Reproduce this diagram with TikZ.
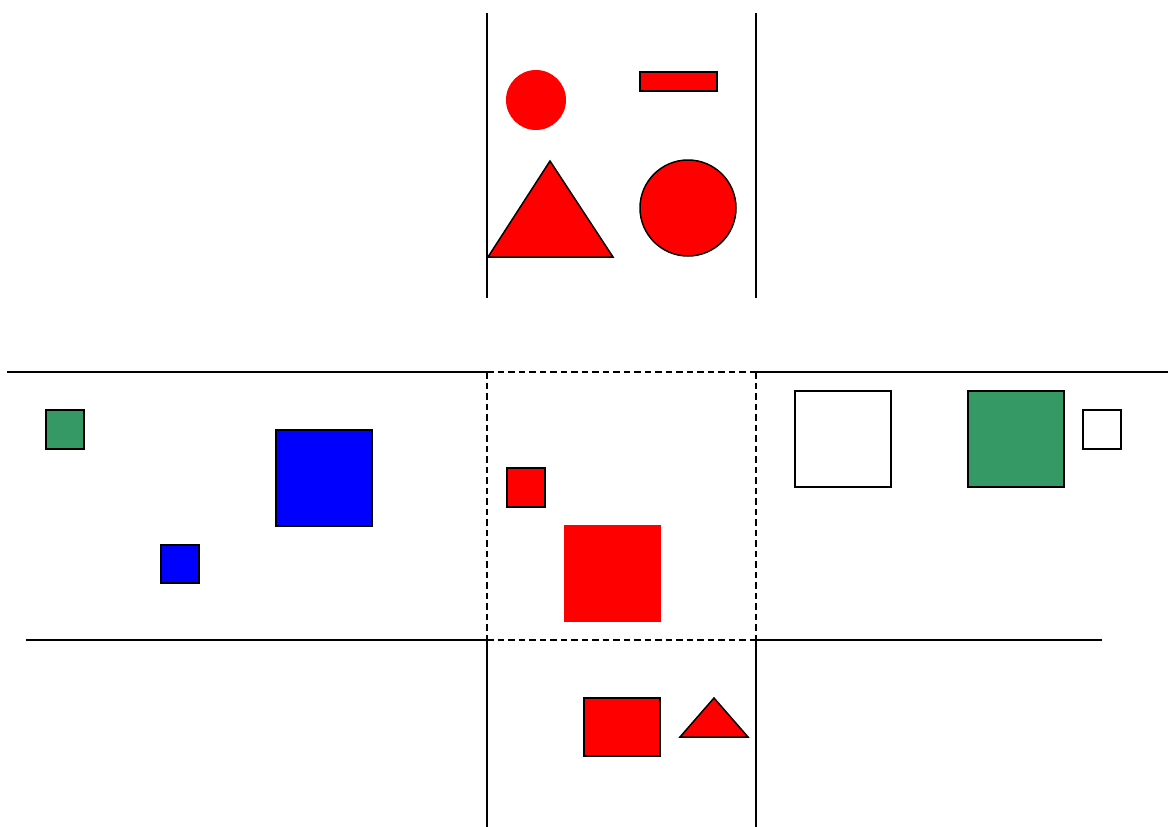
\documentclass[tikz,border=0pt]{standalone}
\definecolor{sgreen}{RGB}{53,153,102}
\definecolor{pred}{RGB}{255,0,0}
\definecolor{pblue}{RGB}{0,0,255}
\tikzset{
  ln/.style={line width=1.6pt, black},
  dln/.style={line width=1.6pt, black, dash pattern=on 6.5pt off 4pt},
  shp/.style={draw=black, line width=1.5pt},
}
\begin{document}
\begin{tikzpicture}[x=1pt,y=-1pt]
\useasboundingbox (0,0) rectangle (1168,827);
% top frame
\draw[ln] (487,13) -- (487,298);
\draw[ln] (756,13) -- (756,298);
% horizontals
\draw[ln] (7,372) -- (487,372);
\draw[dln] (487,372) -- (756,372);
\draw[ln] (756,372) -- (1168,372);
\draw[ln] (26,640) -- (487,640);
\draw[dln] (487,640) -- (756,640);
\draw[ln] (756,640) -- (1102,640);
% middle verticals
\draw[dln] (487,372) -- (487,640);
\draw[dln] (756,372) -- (756,640);
% bottom verticals
\draw[ln] (487,640) -- (487,827);
\draw[ln] (756,640) -- (756,827);
% top shapes
\fill[pred] (536,100) circle (30);
\draw[shp, fill=pred] (640,72) rectangle (717,91);
\draw[shp, fill=pred] (488,257) -- (550,161) -- (613,257) -- cycle;
\draw[shp, fill=pred] (688,208) circle (48);
% left shapes
\draw[shp, fill=sgreen] (46,410) rectangle (84,449);
\draw[shp, fill=pblue] (276,430) rectangle (372,526);
\draw[shp, fill=pblue] (161,545) rectangle (199,583);
% middle shapes
\draw[shp, fill=pred] (507,468) rectangle (545,507);
\fill[pred] (564,525) rectangle (661,622);
% right shapes
\draw[shp, fill=white] (795,391) rectangle (891,487);
\draw[shp, fill=sgreen] (968,391) rectangle (1064,487);
\draw[shp, fill=white] (1083,410) rectangle (1121,449);
% bottom shapes
\draw[shp, fill=pred] (584,698) rectangle (660,756);
\draw[shp, fill=pred] (680,737) -- (714,698) -- (748,737) -- cycle;
\end{tikzpicture}
\end{document}
